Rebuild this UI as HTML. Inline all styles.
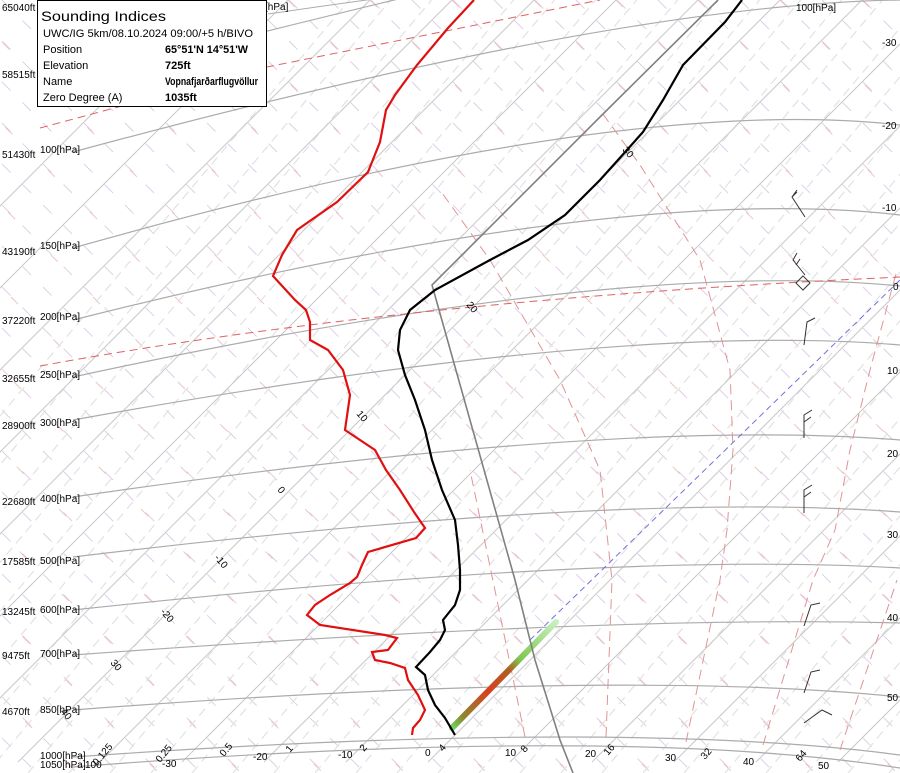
<!DOCTYPE html>
<html><head><meta charset="utf-8"><style>
html,body{margin:0;padding:0;background:#fff;width:900px;height:773px;overflow:hidden;}
svg{display:block;font-family:"Liberation Sans",sans-serif;}
</style></head><body>
<svg id="s" width="900" height="773" viewBox="0 0 900 773" xmlns="http://www.w3.org/2000/svg">
<defs>
<clipPath id="c"><rect x="0" y="0" width="900" height="773"/></clipPath>
<linearGradient id="g" x1="452" y1="728" x2="556" y2="622" gradientUnits="userSpaceOnUse">
<stop offset="0" stop-color="#6fd860"/><stop offset="0.1" stop-color="#8a8a30"/><stop offset="0.35" stop-color="#d84020"/><stop offset="0.55" stop-color="#b06020"/><stop offset="0.65" stop-color="#7ec850"/><stop offset="1" stop-color="#c8f0c0"/>
</linearGradient>
</defs>
<g id="grid" clip-path="url(#c)"></g>
<g id="iso" fill="none" stroke="#c4c4c4" stroke-width="1" clip-path="url(#c)"></g>

<g fill="none" stroke="#e09494" stroke-width="1" stroke-dasharray="10,6">
<path d="M525,737 L497,600 L470,470"/>
<path d="M606,737 L612,580 L600,470 L560,380 L490,260 L440,190"/>
<path d="M686,742 L720,580 L727,530 L733,450 L730,370 L700,260 L640,165 L600,110"/>
<path d="M763,745 L813,580 L835,530 L850,450 L870,370 L897,270"/>
<path d="M840,750 L897,580"/>
</g>
<g fill="none" stroke="#e06060" stroke-width="1" stroke-dasharray="8,5">
<path d="M40,366 Q400,300 900,277"/>
<path d="M40,128 L267,67 L600,0"/>
</g>
<path d="M530,640 L900,280" stroke="#7070e0" stroke-width="1" stroke-dasharray="6,4" fill="none"/>
<path d="M452,728 L556,622" stroke="url(#g)" stroke-width="6" stroke-linecap="round" fill="none"/>

<path d="M718,0 L600,117 L432,285 L515,580 L535,660 L560,740 L573,773" stroke="#808080" stroke-width="1.6" fill="none"/>
<path d="M742,0 L725,22 L683,65 L663,100 L643,132 L618,160 L600,180 L565,215 L528,240 L490,260 L435,290 L410,310 L400,330 L398,350 L405,375 L415,400 L425,430 L432,460 L442,490 L455,520 L458,545 L460,570 L460,590 L455,605 L443,620 L445,630 L440,640 L430,652 L416,667 L425,675 L428,690 L435,705 L445,718 L455,735" stroke="#000" stroke-width="2.2" fill="none"/>
<path d="M474,0 L448,28 L417,65 L395,95 L386,110 L380,142 L368,172 L337,202 L297,230 L282,255 L273,276 L295,300 L306,310 L310,322 L310,340 L328,350 L343,370 L350,395 L345,430 L375,450 L386,470 L400,490 L414,512 L425,528 L416,538 L368,552 L362,565 L357,577 L350,583 L330,595 L315,605 L307,615 L320,625 L385,635 L397,638 L388,650 L372,652 L375,660 L390,663 L405,668 L408,680 L418,695 L425,710 L420,720 L413,728 L412,735" stroke="#e01010" stroke-width="2.2" fill="none"/>

<g stroke="#333" stroke-width="1" fill="none">
<path d="M805,217 L792,197 L797,190 M792,197 L797,192"/>
<path d="M805,275 L793,260 L797,253 M796,265 L800,259"/>
<rect x="798" y="278" width="10" height="10" transform="rotate(45 803 283)"/>
<path d="M804,345 L807,322 L815,318"/>
<path d="M804,438 L804,415 L812,410 M804,422 L811,417"/>
<path d="M804,513 L804,490 L812,485 M804,497 L811,492"/>
<path d="M804,626 L811,605 L820,603"/>
<path d="M804,693 L811,672 L820,670"/>
<path d="M804,723 L822,710 L832,715"/>
</g>

<g font-size="10" fill="#000">
<text x="2" y="11">65040ft</text>
<text x="2" y="78">58515ft</text>
<text x="2" y="158">51430ft</text>
<text x="2" y="255">43190ft</text>
<text x="2" y="324">37220ft</text>
<text x="2" y="382">32655ft</text>
<text x="2" y="429">28900ft</text>
<text x="2" y="505">22680ft</text>
<text x="2" y="565">17585ft</text>
<text x="2" y="615">13245ft</text>
<text x="2" y="659">9475ft</text>
<text x="2" y="715">4670ft</text>
<text x="40" y="153">100[hPa]</text>
<text x="40" y="249">150[hPa]</text>
<text x="40" y="320">200[hPa]</text>
<text x="40" y="378">250[hPa]</text>
<text x="40" y="426">300[hPa]</text>
<text x="40" y="502">400[hPa]</text>
<text x="40" y="564">500[hPa]</text>
<text x="40" y="613">600[hPa]</text>
<text x="40" y="657">700[hPa]</text>
<text x="40" y="713">850[hPa]</text>
<text x="40" y="759">1000[hPa]</text>
<text x="40" y="768">1050[hPa]</text>
<text x="265" y="10">[hPa]</text>
<text x="796" y="11">100[hPa]</text>
<text x="882" y="46">-30</text>
<text x="882" y="129">-20</text>
<text x="882" y="211">-10</text>
<text x="893" y="290">0</text>
<text x="887" y="374">10</text>
<text x="887" y="457">20</text>
<text x="887" y="538">30</text>
<text x="887" y="621">40</text>
<text x="887" y="701">50</text>
<text x="162" y="767">-30</text>
<text x="253" y="760">-20</text>
<text x="338" y="758">-10</text>
<text x="425" y="756">0</text>
<text x="505" y="756">10</text>
<text x="585" y="757">20</text>
<text x="665" y="761">30</text>
<text x="743" y="765">40</text>
<text x="818" y="769">50</text>
<text x="85" y="768">100</text>
<text transform="translate(97,766) rotate(-50)">0.125</text>
<text transform="translate(160,763) rotate(-50)">0.25</text>
<text transform="translate(224,757) rotate(-50)">0.5</text>
<text transform="translate(290,753) rotate(-50)">1</text>
<text transform="translate(364,752) rotate(-50)">2</text>
<text transform="translate(443,752) rotate(-50)">4</text>
<text transform="translate(525,753) rotate(-50)">8</text>
<text transform="translate(608,756) rotate(-50)">16</text>
<text transform="translate(705,760) rotate(-50)">32</text>
<text transform="translate(800,762) rotate(-50)">64</text>
<text transform="translate(60,712) rotate(50)">40</text>
<text transform="translate(110,663) rotate(50)">30</text>
<text transform="translate(160,612) rotate(50)">-20</text>
<text transform="translate(214,558) rotate(50)">-10</text>
<text transform="translate(277,490) rotate(50)">0</text>
<text transform="translate(356,414) rotate(50)">10</text>
<text transform="translate(466,305) rotate(50)">20</text>
<text transform="translate(622,150) rotate(50)">30</text>
</g>

<rect x="37.5" y="0.5" width="229" height="106" fill="#fff" stroke="#000"/>
<g font-size="11" fill="#000">
<text x="41" y="21" font-size="14" textLength="125" lengthAdjust="spacingAndGlyphs">Sounding Indices</text>
<text x="43" y="37" textLength="210" lengthAdjust="spacingAndGlyphs">UWC/IG 5km/08.10.2024 09:00/+5 h/BIVO</text>
<text x="43" y="53">Position</text><text x="165" y="53" font-weight="bold" textLength="83" lengthAdjust="spacingAndGlyphs">65°51'N 14°51'W</text>
<text x="43" y="69">Elevation</text><text x="165" y="69" font-weight="bold">725ft</text>
<text x="43" y="85">Name</text><text x="165" y="85" font-weight="bold" textLength="93" lengthAdjust="spacingAndGlyphs">Vopnafjarðarflugvöllur</text>
<text x="43" y="101">Zero Degree (A)</text><text x="165" y="101" font-weight="bold">1035ft</text>
</g>
</svg>
<script>
(function(){
var NS="http://www.w3.org/2000/svg";
var grid=document.getElementById("grid"), iso=document.getElementById("iso");
function line(p,x1,y1,x2,y2,st,da,w){var l=document.createElementNS(NS,"line");l.setAttribute("x1",x1);l.setAttribute("y1",y1);l.setAttribute("x2",x2);l.setAttribute("y2",y2);l.setAttribute("stroke",st);l.setAttribute("stroke-width",w||1);if(da)l.setAttribute("stroke-dasharray",da);p.appendChild(l);}
for(var k=-900;k<1800;k+=41){line(grid,k,0,k+900,900,"#e2cce8","12,17",1);}
for(var k=-880;k<1800;k+=82){line(grid,k+20,0,k+920,900,"#ecc4c4","10,50",1);}
for(var k=-300;k<1400;k+=41){line(grid,k,773,k+700,-60,"#e2e2e2","9,6",1.2);}
for(var T=-120;T<=50;T+=10){var x0=428+8.2*T;line(iso,x0,762,x0+900,-138,"#c8c8c8",null,1);}
var P=[[767,724,768],[757,718,755],[710,668,697],[655,615,623],[610,551,568],[557,491,512],[497,417,440],[420,321,345],[377,258,286],[320,182,215],[248,93,125],[152,4,0],[80,-60,-110]];
P.forEach(function(a){var p=document.createElementNS(NS,"path");p.setAttribute("d","M73,"+a[0]+" Q620,"+a[1]+" 900,"+a[2]);p.setAttribute("stroke","#ababab");p.setAttribute("fill","none");p.setAttribute("stroke-width","1.2");iso.appendChild(p);});
var p=document.createElementNS(NS,"path");p.setAttribute("d","M268,14 Q500,-20 700,-40");p.setAttribute("stroke","#ababab");p.setAttribute("fill","none");iso.appendChild(p);
})();
</script>
</body></html>
